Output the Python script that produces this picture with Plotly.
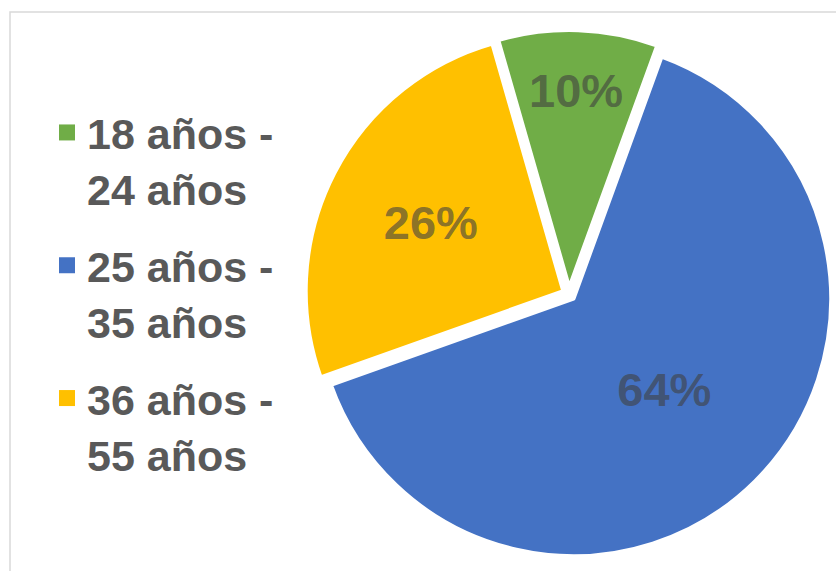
import plotly.graph_objects as go

# Age groups and their share of respondents
age_groups = ["18 años -<br>24 años", "25 años -<br>35 años", "36 años -<br>55 años"]
shares = [10, 64, 26]
slice_colors = ["#70AD47", "#4472C4", "#FFC000"]

W, H = 836, 571

fig = go.Figure()

fig.add_trace(go.Pie(
    labels=age_groups,
    values=shares,
    sort=False,
    direction="clockwise",
    rotation=-16,
    marker=dict(colors=slice_colors, line=dict(color="white", width=4)),
    pull=[0.025, 0.025, 0.025],
    texttemplate="%{percent:.0%}",
    textposition="inside",
    insidetextorientation="horizontal",
    textfont=dict(family="Liberation Sans, Arial, sans-serif", size=47,
                  color="rgba(64,64,64,0.62)", weight="bold"),
    showlegend=False,
    hoverinfo="label+percent",
    domain=dict(x=[305 / W, 833 / W], y=[1 - 558 / H, 1 - 30 / H]),
))

# Legend entries (square swatches) — one group per age band for spacing
for name, color in zip(age_groups, slice_colors):
    fig.add_trace(go.Scatter(
        x=[None], y=[None], mode="markers", name=name,
        legendgroup=name,
        marker=dict(symbol="square", size=16, color=color),
        hoverinfo="skip",
    ))

fig.update_layout(
    width=W, height=H,
    margin=dict(l=0, r=0, t=0, b=0),
    paper_bgcolor="white",
    plot_bgcolor="white",
    xaxis=dict(visible=False),
    yaxis=dict(visible=False),
    legend=dict(
        x=47 / W, y=1 - 98 / H, xanchor="left", yanchor="top",
        valign="top",
        tracegroupgap=18,
        font=dict(family="Liberation Sans, Arial, sans-serif", size=43,
                  color="#595959", weight="bold"),
        bgcolor="rgba(0,0,0,0)",
    ),
    shapes=[dict(
        type="rect", xref="paper", yref="paper",
        x0=10 / W, x1=1.02, y0=-0.02, y1=1 - 12 / H,
        line=dict(color="#D9D9D9", width=1.5),
        fillcolor="rgba(0,0,0,0)", layer="below",
    )],
)

fig.write_html("out.html")
